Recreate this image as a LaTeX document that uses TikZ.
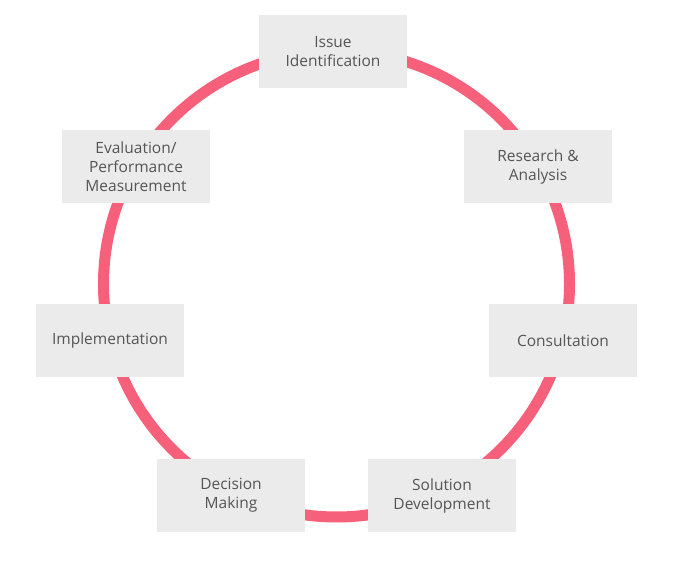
\documentclass[tikz,border=0pt]{standalone}
\usepackage{fontspec}
\setmainfont{Open Sans}
\usepackage{xcolor}
\definecolor{ringpink}{RGB}{246,96,123}
\definecolor{boxgray}{RGB}{235,235,235}
\definecolor{textgray}{RGB}{85,85,85}

\begin{document}
\begin{tikzpicture}[x=1pt,y=-1pt,
  stage/.style={fill=boxgray,minimum width=148pt,minimum height=73pt,inner sep=2pt,
    align=center,text=textgray,font=\fontsize{15.5}{19}\selectfont}]
\useasboundingbox (0,0) rectangle (681,561);
\draw[ringpink,line width=11pt] (336.5,284) circle (233pt);
\node[stage] (issue) at (333,52) {Issue\\Identification};
\node[stage] (research) at (538,167) {Research \&\\Analysis};
\node[stage] (consult) at (563,340.5) {Consultation};
\node[stage] (solution) at (442,495.5) {Solution\\Development};
\node[stage] (decision) at (231,495.5) {Decision\\Making};
\node[stage] (implement) at (110,340.5) {Implementation};
\node[stage] (evaluate) at (136,167) {Evaluation/\\Performance\\Measurement};
\end{tikzpicture}
\end{document}
